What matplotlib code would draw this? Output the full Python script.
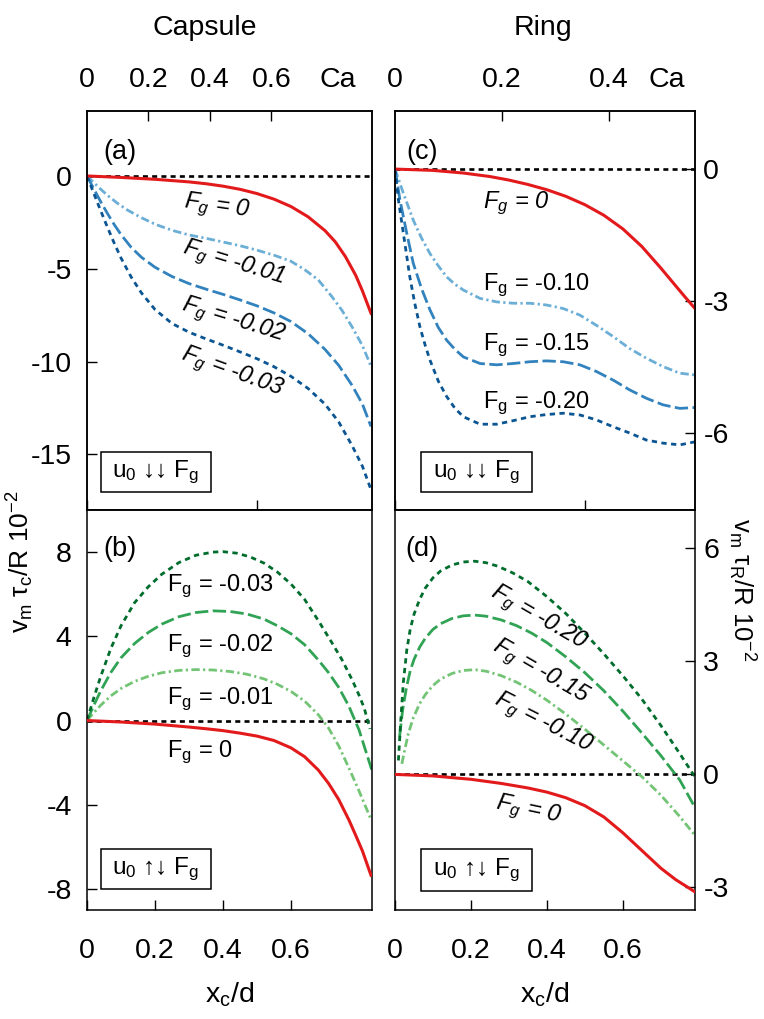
import numpy as np
import matplotlib
matplotlib.use("Agg")
import matplotlib.pyplot as plt
from matplotlib.patches import Rectangle

plt.rcParams['font.family'] = ['Liberation Sans', 'DejaVu Sans']
plt.rcParams['mathtext.fontset'] = 'custom'
plt.rcParams['mathtext.rm'] = 'Liberation Sans'
plt.rcParams['mathtext.it'] = 'Liberation Sans:italic'
plt.rcParams['axes.unicode_minus'] = False

# ---- data ----
# Capsule, u0 antiparallel to Fg (a)
cap_a_x0 = [0, 0.1, 0.2, 0.3, 0.35, 0.4, 0.45, 0.5, 0.55, 0.6, 0.65, 0.7, 0.73, 0.76, 0.79, 0.81, 0.835]
cap_a_v0 = [0, -0.08, -0.18, -0.32, -0.42, -0.55, -0.72, -0.95, -1.25, -1.65, -2.2, -2.95, -3.55, -4.35, -5.35, -6.2, -7.4]
cap_a_x1 = [0, 0.02, 0.04, 0.06, 0.09, 0.12, 0.16, 0.2, 0.25, 0.3, 0.35, 0.4, 0.45, 0.5, 0.55, 0.6, 0.64, 0.68, 0.72, 0.75, 0.78, 0.81, 0.835]
cap_a_v1 = [0, -0.36, -0.71, -1.04, -1.48, -1.85, -2.25, -2.6, -2.93, -3.18, -3.36, -3.56, -3.76, -4.0, -4.27, -4.6, -5.05, -5.6, -6.5, -7.25, -8.15, -9.15, -10.25]
cap_a_x2 = [0, 0.02, 0.04, 0.06, 0.08, 0.1, 0.13, 0.16, 0.2, 0.25, 0.3, 0.35, 0.4, 0.45, 0.5, 0.55, 0.6, 0.65, 0.7, 0.74, 0.78, 0.81, 0.835]
cap_a_v2 = [0, -0.7, -1.38, -2.02, -2.62, -3.16, -3.85, -4.38, -4.92, -5.42, -5.8, -6.1, -6.38, -6.68, -7.0, -7.38, -7.85, -8.5, -9.35, -10.2, -11.3, -12.3, -13.5]
cap_a_x3 = [0, 0.02, 0.04, 0.06, 0.08, 0.1, 0.13, 0.16, 0.2, 0.25, 0.3, 0.35, 0.4, 0.45, 0.5, 0.55, 0.6, 0.65, 0.7, 0.74, 0.78, 0.81, 0.835]
cap_a_v3 = [0, -0.94, -1.86, -2.76, -3.62, -4.42, -5.45, -6.3, -7.2, -7.95, -8.42, -8.78, -9.12, -9.48, -9.85, -10.28, -10.8, -11.45, -12.3, -13.25, -14.55, -15.65, -16.9]

# Capsule, u0 parallel to Fg (b)
cap_b_x0 = [0, 0.1, 0.2, 0.3, 0.35, 0.4, 0.45, 0.5, 0.55, 0.6, 0.64, 0.68, 0.71, 0.74, 0.77, 0.79, 0.81, 0.835]
cap_b_v0 = [0, -0.07, -0.17, -0.31, -0.39, -0.48, -0.6, -0.74, -0.95, -1.3, -1.72, -2.35, -2.98, -3.75, -4.72, -5.45, -6.2, -7.35]
cap_b_x1 = [0, 0.02, 0.04, 0.07, 0.1, 0.14, 0.18, 0.22, 0.27, 0.32, 0.37, 0.42, 0.47, 0.52, 0.56, 0.6, 0.64, 0.68, 0.71, 0.74, 0.77, 0.8, 0.835]
cap_b_v1 = [0, 0.37, 0.72, 1.17, 1.52, 1.86, 2.1, 2.27, 2.38, 2.42, 2.4, 2.33, 2.2, 1.98, 1.72, 1.38, 0.92, 0.28, -0.35, -1.2, -2.25, -3.35, -4.7]
cap_b_x2 = [0, 0.02, 0.04, 0.07, 0.1, 0.14, 0.18, 0.22, 0.27, 0.32, 0.37, 0.42, 0.47, 0.52, 0.56, 0.6, 0.64, 0.68, 0.71, 0.74, 0.77, 0.8, 0.837]
cap_b_v2 = [0, 0.72, 1.4, 2.28, 2.98, 3.66, 4.18, 4.58, 4.93, 5.13, 5.21, 5.18, 5.06, 4.82, 4.5, 4.12, 3.6, 2.88, 2.28, 1.58, 0.68, -0.45, -2.33]
cap_b_x3 = [0, 0.02, 0.04, 0.07, 0.1, 0.14, 0.18, 0.22, 0.27, 0.32, 0.37, 0.4, 0.44, 0.48, 0.52, 0.56, 0.6, 0.64, 0.68, 0.72, 0.75, 0.78, 0.8, 0.815, 0.832]
cap_b_v3 = [0, 1.08, 2.08, 3.42, 4.5, 5.6, 6.35, 6.95, 7.5, 7.85, 8.0, 8.02, 7.95, 7.77, 7.48, 7.05, 6.48, 5.75, 4.75, 3.7, 2.88, 1.92, 1.2, 0.6, -0.4]

# Ring, u0 antiparallel to Fg (c)
ring_c_x0 = [0, 0.1, 0.18, 0.25, 0.3, 0.35, 0.4, 0.45, 0.5, 0.55, 0.6, 0.65, 0.7, 0.73, 0.76, 0.79]
ring_c_v0 = [0, -0.03, -0.09, -0.17, -0.25, -0.35, -0.47, -0.62, -0.81, -1.05, -1.36, -1.76, -2.25, -2.56, -2.87, -3.17]
ring_c_x1 = [0, 0.022, 0.048, 0.07, 0.092, 0.114, 0.136, 0.158, 0.18, 0.224, 0.268, 0.311, 0.355, 0.399, 0.443, 0.487, 0.53, 0.575, 0.618, 0.662, 0.706, 0.75, 0.79]
ring_c_v1 = [0, -0.55, -1.16, -1.57, -1.92, -2.2, -2.45, -2.62, -2.75, -2.94, -3.02, -3.05, -3.05, -3.09, -3.17, -3.32, -3.55, -3.81, -4.08, -4.3, -4.49, -4.64, -4.68]
ring_c_x2 = [0, 0.013, 0.031, 0.048, 0.07, 0.092, 0.114, 0.136, 0.158, 0.18, 0.224, 0.268, 0.311, 0.355, 0.399, 0.443, 0.487, 0.53, 0.575, 0.618, 0.662, 0.706, 0.75, 0.79]
ring_c_v2 = [0, -0.7, -1.46, -2.14, -2.72, -3.2, -3.6, -3.89, -4.1, -4.27, -4.42, -4.45, -4.42, -4.38, -4.36, -4.38, -4.45, -4.6, -4.8, -5.02, -5.21, -5.36, -5.44, -5.42]
ring_c_x3 = [0, 0.009, 0.022, 0.039, 0.052, 0.066, 0.08, 0.092, 0.114, 0.136, 0.158, 0.18, 0.224, 0.268, 0.311, 0.355, 0.399, 0.443, 0.487, 0.53, 0.575, 0.618, 0.662, 0.706, 0.75, 0.79]
ring_c_v3 = [0, -0.7, -1.46, -2.45, -3.05, -3.6, -4.02, -4.34, -4.82, -5.17, -5.44, -5.63, -5.8, -5.8, -5.72, -5.63, -5.58, -5.55, -5.59, -5.7, -5.86, -6.0, -6.16, -6.23, -6.27, -6.2]

# Ring, u0 parallel to Fg (d)
ring_d_x0 = [0, 0.1, 0.2, 0.28, 0.35, 0.4, 0.45, 0.5, 0.55, 0.6, 0.65, 0.7, 0.74, 0.77, 0.79]
ring_d_v0 = [0, -0.04, -0.13, -0.24, -0.36, -0.47, -0.62, -0.83, -1.13, -1.55, -2.02, -2.49, -2.8, -2.99, -3.12]
ring_d_x1 = [0.018, 0.025, 0.035, 0.048, 0.065, 0.08, 0.1, 0.12, 0.15, 0.18, 0.21, 0.24, 0.28, 0.32, 0.36, 0.4, 0.45, 0.5, 0.55, 0.6, 0.65, 0.7, 0.75, 0.79]
ring_d_v1 = [0.28, 0.62, 1.08, 1.5, 1.88, 2.12, 2.36, 2.53, 2.68, 2.76, 2.78, 2.74, 2.62, 2.45, 2.23, 1.97, 1.6, 1.2, 0.78, 0.36, -0.06, -0.55, -1.12, -1.62]
ring_d_x2 = [0.012, 0.02, 0.03, 0.04, 0.05, 0.065, 0.08, 0.1, 0.12, 0.15, 0.18, 0.21, 0.24, 0.28, 0.32, 0.36, 0.4, 0.45, 0.5, 0.55, 0.6, 0.65, 0.7, 0.75, 0.79]
ring_d_v2 = [1.0, 1.7, 2.3, 2.75, 3.05, 3.38, 3.62, 3.85, 4.0, 4.14, 4.21, 4.23, 4.2, 4.1, 3.95, 3.75, 3.5, 3.12, 2.7, 2.22, 1.68, 1.1, 0.5, -0.15, -0.88]
ring_d_x3 = [0.009, 0.015, 0.022, 0.031, 0.04, 0.05, 0.065, 0.08, 0.1, 0.12, 0.15, 0.18, 0.21, 0.24, 0.27, 0.31, 0.35, 0.4, 0.45, 0.5, 0.55, 0.6, 0.65, 0.7, 0.75, 0.79]
ring_d_v3 = [0.37, 1.4, 2.45, 3.3, 3.85, 4.25, 4.65, 4.95, 5.22, 5.4, 5.56, 5.64, 5.66, 5.62, 5.53, 5.35, 5.12, 4.72, 4.27, 3.75, 3.2, 2.62, 2.0, 1.3, 0.55, -0.07]

cap_labels = ['0', '-0.01', '-0.02', '-0.03']
ring_labels = ['0', '-0.10', '-0.15', '-0.20']
xc_ticks = [0, 0.2, 0.4, 0.6]
xc_labels = ['0', '0.2', '0.4', '0.6']
cap_ca_ticks = [0, 0.2, 0.4, 0.6, 0.816]
cap_ca_labels = ['0', '0.2', '0.4', '0.6', 'Ca']
ring_ca_ticks = [0, 0.2, 0.4, 0.51]
ring_ca_labels = ['0', '0.2', '0.4', 'Ca']

RED = '#e31a1c'
BLUES = ['#6baed6', '#3182bd', '#0b5592']
GREENS = ['#74c476', '#31a354', '#006d2c']
STYLES = [(0, (3.0, 1.2, 0.8, 1.2)), (0, (4.8, 1.6)), (0, (1.9, 1.6))]
FS = 20.5
LFS = 17
LW = 2.0

W, H = 764, 1019
fig = plt.figure(figsize=(W / 100, H / 100), dpi=100)


def frac(x0, y0, x1, y1):
    return [x0 / W, 1 - y1 / H, (x1 - x0) / W, (y1 - y0) / H]


ax_a = fig.add_axes(frac(87, 111, 372, 510))
ax_b = fig.add_axes(frac(87, 510, 372, 910))
ax_c = fig.add_axes(frac(395, 111, 695, 510))
ax_d = fig.add_axes(frac(395, 510, 695, 910))


def curves(ax, xs, vs, colors):
    ax.axhline(0, color='black', lw=1.9, ls=(0, (1.9, 1.6)), zorder=1)
    ax.plot(xs[0], vs[0], color=RED, lw=2.2, zorder=3)
    for i in range(3):
        ax.plot(xs[i + 1], vs[i + 1], color=colors[i], lw=LW, ls=STYLES[i], zorder=2)


curves(ax_a, [cap_a_x0, cap_a_x1, cap_a_x2, cap_a_x3], [cap_a_v0, cap_a_v1, cap_a_v2, cap_a_v3], BLUES)
curves(ax_b, [cap_b_x0, cap_b_x1, cap_b_x2, cap_b_x3], [cap_b_v0, cap_b_v1, cap_b_v2, cap_b_v3], GREENS)
curves(ax_c, [ring_c_x0, ring_c_x1, ring_c_x2, ring_c_x3], [ring_c_v0, ring_c_v1, ring_c_v2, ring_c_v3], BLUES)
curves(ax_d, [ring_d_x0, ring_d_x1, ring_d_x2, ring_d_x3], [ring_d_v0, ring_d_v1, ring_d_v2, ring_d_v3], GREENS)

ax_a.set_ylim(-18, 3.5)
ax_b.set_ylim(-9, 10)
ax_c.set_ylim(-7.75, 1.32)
ax_d.set_ylim(-3.6, 7.02)
for ax in (ax_a, ax_b):
    ax.set_xlim(0, 0.838)
for ax in (ax_c, ax_d):
    ax.set_xlim(0, 0.79)

tick_kw = dict(direction='in', length=7.5, width=1.0, labelsize=FS)
for ax in (ax_a, ax_b, ax_c, ax_d):
    for s in ax.spines.values():
        s.set_linewidth(1.1)
    ax.tick_params(axis='both', **tick_kw)
    ax.tick_params(top=False)

ax_a.set_yticks([0, -5, -10, -15])
ax_b.set_yticks([8, 4, 0, -4, -8])
ax_c.set_yticks([0, -3, -6])
ax_d.set_yticks([6, 3, 0, -3])
ax_a.tick_params(axis='y', pad=11)
ax_b.tick_params(axis='y', pad=11)
for ax in (ax_c, ax_d):
    ax.tick_params(axis='y', left=False, labelleft=False, right=True, labelright=True, pad=6)
for ax in (ax_a, ax_c):
    ax.tick_params(axis='x', bottom=False, labelbottom=False)
for ax in (ax_b, ax_d):
    ax.set_xticks(xc_ticks)
    ax.set_xticklabels(xc_labels)
    ax.tick_params(axis='x', pad=20)
    ax.set_xlabel(r'$\mathregular{x_c/d}$', fontsize=FS, labelpad=12)

# top Ca axes
for ax, lim, ticks, labels in ((ax_a, 0.927, cap_ca_ticks, cap_ca_labels),
                               (ax_c, 0.562, ring_ca_ticks, ring_ca_labels)):
    tw = ax.twiny()
    tw.set_xlim(0, lim)
    tw.set_xticks(ticks)
    tw.set_xticklabels(labels)
    tw.tick_params(axis='x', **tick_kw)
    tw.tick_params(axis='x', pad=13)
    for s in tw.spines.values():
        s.set_linewidth(1.1)
    tks = tw.xaxis.get_major_ticks()
    tks[0].tick2line.set_visible(False)
    tks[-1].tick2line.set_visible(False)

# panel letters
for ax, t, y in ((ax_a, '(a)', 0.897), (ax_b, '(b)', 0.902), (ax_c, '(c)', 0.897), (ax_d, '(d)', 0.902)):
    x0 = 0.115 if ax in (ax_a, ax_b) else 0.09
    ax.text(x0, y, t, transform=ax.transAxes, fontsize=FS - 1, ha='center', va='center')


# direction boxes
def dirbox(ax, x0, y0, x1, y1, txt):
    ax.add_patch(Rectangle((x0, y0), x1 - x0, y1 - y0, transform=ax.transAxes,
                           fill=False, ec='black', lw=1.1, zorder=5))
    ax.text((x0 + x1) / 2, (y0 + y1) / 2, txt, transform=ax.transAxes, fontsize=17.5,
            ha='center', va='center', zorder=5)


down = r'$\mathregular{u_0}$ ↓↓ $\mathregular{F_g}$'
updown = r'$\mathregular{u_0}$ ↑↓ $\mathregular{F_g}$'
dirbox(ax_a, 0.049, 0.045, 0.435, 0.145, down)
dirbox(ax_c, 0.087, 0.045, 0.457, 0.145, down)
dirbox(ax_b, 0.049, 0.0525, 0.435, 0.1525, updown)
dirbox(ax_d, 0.087, 0.0475, 0.457, 0.1525, updown)


def flab(val):
    return r'$\mathregular{F_g}$ = ' + val


# curve labels (a): rotated, italic
for val, x, y, r in zip(cap_labels, [0.382, 0.43, 0.43, 0.426], [-1.67, -4.7, -7.8, -10.6], [-8, -17, -17, -20]):
    ax_a.text(x, y, flab(val), fontsize=LFS, rotation=r, rotation_mode='anchor',
              ha='center', va='center', style='italic')
# (b): upright
for val, y in zip(cap_labels, [-1.76, 0.76, 3.29, 6.14]):
    ax_b.text(0.235, y, flab(val), fontsize=LFS, ha='left', va='baseline')
# (c)
for val, y in zip(ring_labels, [-0.89, -2.75, -4.11, -5.43]):
    ax_c.text(0.232, y, flab(val), fontsize=LFS, ha='left', va='baseline',
              style='italic' if val == '0' else 'normal')
# (d): rotated
for val, x, y, r in zip(ring_labels, [0.35, 0.39, 0.382, 0.376], [-0.96, 1.36, 2.71, 4.15], [-12, -27, -30, -30]):
    ax_d.text(x, y, flab(val), fontsize=LFS, rotation=r, rotation_mode='anchor',
              ha='center', va='center', style='italic')

fig.text(205 / W, 1 - 28 / H, 'Capsule', fontsize=FS, ha='center', va='center')
fig.text(543 / W, 1 - 28 / H, 'Ring', fontsize=FS, ha='center', va='center')
fig.text(20 / W, 1 - 562 / H, r'$\mathregular{v_m}$ $\mathregular{\tau_c}$/R 10$^{\mathregular{-2}}$',
         fontsize=19, rotation=90, ha='center', va='center')
fig.text(742 / W, 1 - 590 / H, r'$\mathregular{v_m}$ $\mathregular{\tau_R}$/R 10$^{\mathregular{-2}}$',
         fontsize=18.5, rotation=270, ha='center', va='center')

fig.savefig('out.png', dpi=100)
